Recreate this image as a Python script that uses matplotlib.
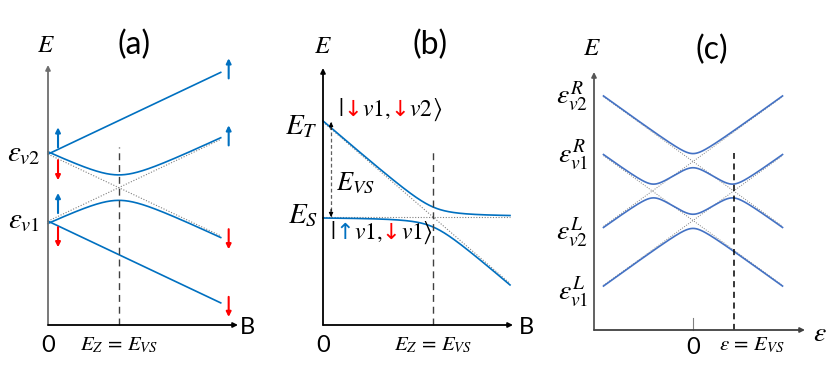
import numpy as np
import matplotlib
matplotlib.use("Agg")
import matplotlib.pyplot as plt
from matplotlib.offsetbox import TextArea, HPacker, AnnotationBbox

plt.rcParams['mathtext.fontset'] = 'stix'
plt.rcParams['font.family'] = ['Lato', 'DejaVu Sans']

W, H = 831, 382
BLUE = '#0070C0'
BLUE_C = '#4472C4'
RED = '#FF0000'
GRAY = '#808080'

# ---- panel (a): Zeeman splitting of two valleys
eps_v = [1.0, 2.0]          # eps_v1, eps_v2
g_a = 1.22                  # Zeeman slope
gap_a = 0.19                # half gap of anticrossing
B_end_a = 1.0
arrow_B_a = [0.058, 0.058, 0.058, 0.058, 1.046, 1.046, 1.046, 1.046]
arrow_E_a = [2.10, 1.91, 1.12, 0.91, 3.13, 2.13, 0.88, -0.13]
arrow_dir_a = [1, -1, 1, -1, 1, 1, -1, -1]

# ---- panel (b): singlet / triplet
E_T, E_S = 1.0, 0.0
s_b = 1.70
gap_b = 0.105
B_end_b = 1.0

# ---- panel (c): detuning
d_levels = [1.0, 0.0]       # levels decreasing with eps (R)
u_levels = [1.0, 0.0]       # levels increasing with eps (L)
s_c = 1.10
t_c = 0.12
eps_lim = (-1.0, 1.0)
c_labels = [r'$\varepsilon_{v2}^{R}$', r'$\varepsilon_{v1}^{R}$',
            r'$\varepsilon_{v2}^{L}$', r'$\varepsilon_{v1}^{L}$']
c_label_E = [2.09, 1.11, -0.21, -1.21]


def panel_axes(px0, px1, py_top, py_bot, xlim, ylim):
    ax = fig.add_axes([px0 / W, 1 - py_bot / H, (px1 - px0) / W, (py_bot - py_top) / H])
    ax.set_xlim(xlim)
    ax.set_ylim(ylim)
    ax.axis('off')
    return ax


def draw_axes(ax, ycol, xcol, lw=1.3):
    ax.annotate('', xy=(0, 1), xytext=(0, 0), xycoords='axes fraction',
                arrowprops=dict(arrowstyle='-|>', color=ycol, lw=lw, mutation_scale=7,
                                shrinkA=0, shrinkB=0))
    ax.annotate('', xy=(1, 0), xytext=(0, 0), xycoords='axes fraction',
                arrowprops=dict(arrowstyle='-|>', color=xcol, lw=lw, mutation_scale=7,
                                shrinkA=0, shrinkB=0))


def anticross(e1, e2, gap):
    mid = (e1 + e2) / 2
    half = np.sqrt(((e1 - e2) / 2) ** 2 + gap ** 2)
    return mid + half, mid - half


fig = plt.figure(figsize=(W / 100, H / 100), dpi=100)

# ================= (a)
ax = panel_axes(48, 238, 65, 325, (0, 1.10), (-0.55, 3.33))
draw_axes(ax, '#6e6e6e', 'black')
B = np.linspace(0, B_end_a, 300)
dn2 = eps_v[1] - g_a * B
up1 = eps_v[0] + g_a * B
ax.plot(B, dn2, ls=(0, (1, 1.5)), color=GRAY, lw=0.8, clip_on=False)
ax.plot(B, up1, ls=(0, (1, 1.5)), color=GRAY, lw=0.8, clip_on=False)
hi, lo = anticross(dn2, up1, gap_a)
ax.plot(B, eps_v[1] + g_a * B, color=BLUE, lw=1.2, clip_on=False)
ax.plot(B, eps_v[0] - g_a * B, color=BLUE, lw=1.2, clip_on=False)
ax.plot(B, hi, color=BLUE, lw=1.2, clip_on=False)
ax.plot(B, lo, color=BLUE, lw=1.2, clip_on=False)
Bc_a = (eps_v[1] - eps_v[0]) / (2 * g_a)
ax.plot([Bc_a, Bc_a], [-0.55, 2.10], color='#404040', lw=1.0, ls=(0, (5, 3.5)), clip_on=False)
for bx, ey, d in zip(arrow_B_a, arrow_E_a, arrow_dir_a):
    col = BLUE if d > 0 else RED
    ax.annotate('', xy=(bx, ey + 0.30 * d), xytext=(bx, ey),
                arrowprops=dict(arrowstyle='-|>', color=col, lw=1.5, mutation_scale=7,
                                shrinkA=0, shrinkB=0), annotation_clip=False)
ax.text(-0.01, 3.63, r'$E$', fontsize=18, ha='center', va='center')
ax.text(0.50, 3.63, '(a)', fontsize=23, ha='center', va='center')
ax.text(-0.045, eps_v[1], r'$\varepsilon_{v2}$', fontsize=21, ha='right', va='center')
ax.text(-0.045, eps_v[0], r'$\varepsilon_{v1}$', fontsize=21, ha='right', va='center')
ax.text(0.0, -0.85, '0', fontsize=17, ha='center', va='center')
ax.text(1.156, -0.58, 'B', fontsize=17, ha='center', va='center')
ax.text(Bc_a, -0.85, r'$E_Z\,=\,E_{VS}$', fontsize=15, ha='center', va='center')

# ================= (b)
ax = panel_axes(323, 513, 68, 325, (0, 1.016), (-1.137, 1.568))
draw_axes(ax, 'black', 'black')
B = np.linspace(0, B_end_b, 300)
diag = E_T - s_b * B
flat = np.full_like(B, E_S)
ax.plot(B, flat, ls=(0, (1, 1.5)), color=GRAY, lw=0.8, clip_on=False)
ax.plot(B, diag, ls=(0, (1, 1.5)), color=GRAY, lw=0.8, clip_on=False)
hi, lo = anticross(diag, flat, gap_b)
ax.plot(B, hi, color=BLUE, lw=1.2, clip_on=False)
ax.plot(B, lo, color=BLUE, lw=1.2, clip_on=False)
Bc_b = (E_T - E_S) / s_b
ax.plot([Bc_b, Bc_b], [-1.137, 0.684], color='#404040', lw=1.0, ls=(0, (5, 3.5)), clip_on=False)
xa = 0.043
ax.plot([xa, xa], [E_S, E_T], color='#606060', lw=0.9, ls=(0, (3, 2)), clip_on=False)
for ey, d in [(E_T, 1), (E_S, -1)]:
    ax.annotate('', xy=(xa, ey), xytext=(xa, ey - 0.08 * d),
                arrowprops=dict(arrowstyle='-|>', color='black', lw=0.8, mutation_scale=6,
                                shrinkA=0, shrinkB=0), annotation_clip=False)
ax.text(0.0, 1.81, r'$E$', fontsize=18, ha='center', va='center')
ax.text(0.572, 1.81, '(b)', fontsize=23, ha='center', va='center')
ax.text(-0.027, 0.95, r'$E_T$', fontsize=21, ha='right', va='center')
ax.text(-0.027, 0.01, r'$E_S$', fontsize=21, ha='right', va='center')
ax.text(0.07, 0.36, r'$E_{VS}$', fontsize=19, ha='left', va='center')
ax.text(0.0, -1.35, '0', fontsize=17, ha='center', va='center')
ax.text(1.09, -1.16, 'B', fontsize=17, ha='center', va='center')
ax.text(Bc_b, -1.35, r'$E_Z\,=\,E_{VS}$', fontsize=15, ha='center', va='center')


def ket(ax, xy, parts):
    boxes = [TextArea(s, textprops=dict(color=c, fontsize=fs, family=['DejaVu Sans']))
             for s, c, fs in parts]
    pack = HPacker(children=boxes, align='baseline', pad=0, sep=0)
    ab = AnnotationBbox(pack, xy, xycoords='data', box_alignment=(0, 0.5),
                        frameon=False, pad=0, annotation_clip=False)
    ax.add_artist(ab)


ket(ax, (0.08, 1.13), [(r'$|$', 'black', 18), ('↓', RED, 16), (r'$v1$', 'black', 17),
                       (r'$,$', 'black', 16), ('↓', RED, 16), (r'$v2$', 'black', 17),
                       (r'$\rangle$', 'black', 18)])
ket(ax, (0.037, -0.17), [(r'$|$', 'black', 18), ('↑', BLUE, 16), (r'$v1$', 'black', 17),
                         (r'$,$', 'black', 16), ('↓', RED, 16), (r'$v1$', 'black', 17),
                         (r'$\rangle$', 'black', 18)])

# ================= (c)
ax = panel_axes(594, 805, 72, 330, (-1.106, 1.251), (-1.856, 2.517))
draw_axes(ax, '#555555', '#404040')
e = np.linspace(eps_lim[0], eps_lim[1], 400)
diab = [d - s_c * e for d in d_levels] + [u + s_c * e for u in u_levels]
for line in diab:
    ax.plot(e, line, ls=(0, (1, 1.5)), color=GRAY, lw=0.7, clip_on=False)
Hm = np.zeros((len(e), 4, 4))
for i in range(4):
    Hm[:, i, i] = diab[i]
for i in range(2):
    for j in range(2, 4):
        Hm[:, i, j] = t_c
        Hm[:, j, i] = t_c
ev = np.linalg.eigvalsh(Hm)
for k in range(4):
    ax.plot(e, ev[:, k], color=BLUE_C, lw=1.2, clip_on=False)
ec = (d_levels[0] - u_levels[1]) / (2 * s_c)
ax.plot([ec, ec], [-1.856, 1.144], color='black', lw=1.1, ls=(0, (4, 3)), clip_on=False)
ax.plot([0, 0], [-1.856, -1.65], color=GRAY, lw=0.8, clip_on=False)
ax.text(-1.13, 2.94, r'$E$', fontsize=18, ha='center', va='center')
ax.text(0.21, 2.89, '(c)', fontsize=23, ha='center', va='center')
for lab, ey in zip(c_labels, c_label_E):
    ax.text(-1.17, ey, lab, fontsize=20, ha='right', va='center')
ax.text(1.42, -1.91, r'$\varepsilon$', fontsize=20, ha='center', va='center')
ax.text(0.0, -2.16, '0', fontsize=17, ha='center', va='center')
ax.text(0.66, -2.11, r'$\varepsilon\,=\,E_{VS}$', fontsize=15, ha='center', va='center')

fig.savefig('out.png', dpi=100)
